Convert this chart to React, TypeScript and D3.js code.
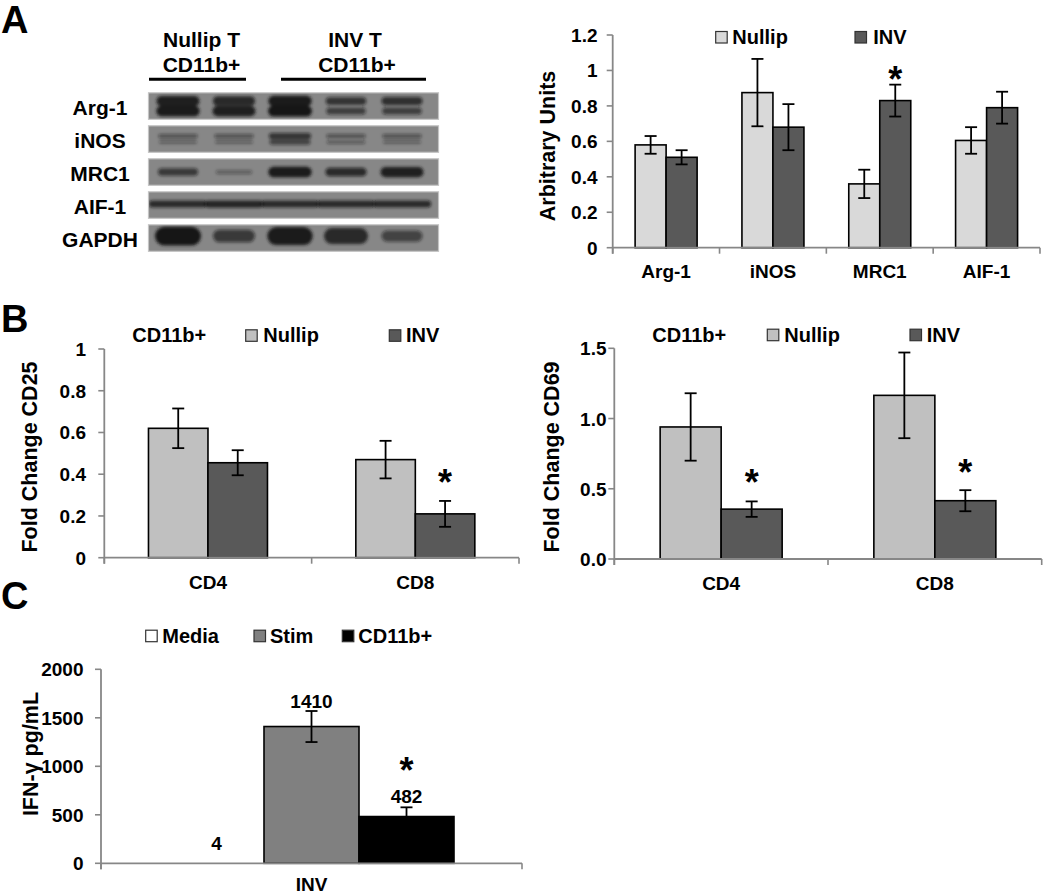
import React from "react";
import * as d3 from "d3";

const FONT = "'Liberation Sans', Arial, Helvetica, sans-serif";

// ---------- Panel A: western blot ----------
const blotProteins = ["Arg-1", "iNOS", "MRC1", "AIF-1", "GAPDH"];
const blotLanes = ["Nullip 1", "Nullip 2", "INV 1", "INV 2", "INV 3"];
const arg1Upper = [0.9, 0.8, 0.95, 0.6, 0.65];
const arg1Lower = [0.95, 0.9, 1.0, 0.5, 0.5];
const inosUpper = [0.3, 0.3, 0.6, 0.3, 0.3];
const inosLower = [0.15, 0.15, 0.45, 0.2, 0.15];
const mrc1Band = [0.55, 0.15, 0.95, 0.7, 0.9];
const aif1Band = [0.7, 0.75, 0.7, 0.7, 0.7];
const gapdhBand = [1.0, 0.55, 0.95, 0.8, 0.45];

// ---------- Panel A: densitometry ----------
const aCategories = ["Arg-1", "iNOS", "MRC1", "AIF-1"];
const aNullip = [0.58, 0.875, 0.36, 0.605];
const aNullipErr = [0.05, 0.19, 0.08, 0.075];
const aInv = [0.51, 0.68, 0.83, 0.79];
const aInvErr = [0.04, 0.13, 0.09, 0.09];
const aTicks = [0, 0.2, 0.4, 0.6, 0.8, 1, 1.2];

// ---------- Panel B ----------
const bCategories = ["CD4", "CD8"];
const cd25Nullip = [0.62, 0.47];
const cd25NullipErr = [0.095, 0.09];
const cd25Inv = [0.455, 0.21];
const cd25InvErr = [0.06, 0.062];
const cd25Ticks = [0, 0.2, 0.4, 0.6, 0.8, 1];
const cd69Nullip = [0.94, 1.165];
const cd69NullipErr = [0.24, 0.305];
const cd69Inv = [0.355, 0.415];
const cd69InvErr = [0.055, 0.075];
const cd69Ticks = [0, 0.5, 1.0, 1.5];

// ---------- Panel C ----------
const cCategories = ["INV"];
const cMedia = [4];
const cStim = [1410];
const cStimErr = [160];
const cCd11b = [482];
const cCd11bErr = [95];
const cTicks = [0, 500, 1000, 1500, 2000];

type Series = {
  name: string;
  values: number[];
  errors?: number[];
  color: string;
  stroke?: string;
  label?: boolean;
  labelGap?: number;
};

type Star = { cat: number; ser: number; gap: number };

function BarChart(props: {
  x0: number; x1: number; y0: number; yTop: number; yMax: number;
  ticks: number[]; fmt: (v: number) => string; categories: string[];
  series: Series[]; barW: number; ylabel: string; yLabelX: number; yLabelY: number;
  tickRight: number; xLabelBaseline: number; stars?: Star[];
}) {
  const { x0, x1, y0, yTop, yMax, ticks, fmt, categories, series, barW, ylabel,
    yLabelX, yLabelY, tickRight, xLabelBaseline, stars = [] } = props;
  const x = d3.scaleBand<string>().domain(categories).range([x0, x1]).padding(0);
  const y = d3.scaleLinear().domain([0, yMax]).range([y0, yTop]);
  const n = series.length;
  const barX = (ci: number, si: number) => (x(categories[ci]) as number) + x.bandwidth() / 2 + (si - n / 2) * barW;
  const axisColor = "#878787";
  const bounds = categories.map((c) => x(c) as number).concat([x1]);
  return (
    <g>
      {series.map((s, si) =>
        s.values.map((v, ci) => (
          <rect key={`b${si}-${ci}`} x={barX(ci, si)} y={y(v)} width={barW} height={y0 - y(v)}
            fill={s.color} stroke={s.stroke ?? "#000"} strokeWidth={1.6} />
        ))
      )}
      <line x1={x0} x2={x1} y1={y0} y2={y0} stroke={axisColor} strokeWidth={1.8} />
      <line x1={x0} x2={x0} y1={y(yMax)} y2={y0 + 6} stroke={axisColor} strokeWidth={1.8} />
      {ticks.map((t) => (
        <g key={`t${t}`}>
          <line x1={x0 - 6} x2={x0} y1={y(t)} y2={y(t)} stroke={axisColor} strokeWidth={1.6} />
          <text x={tickRight} y={y(t) + 7} textAnchor="end" fontSize={19} fontWeight="bold" fontFamily={FONT}>{fmt(t)}</text>
        </g>
      ))}
      {bounds.map((b, i) => (
        <line key={`xt${i}`} x1={b} x2={b} y1={y0} y2={y0 + 6} stroke={axisColor} strokeWidth={1.6} />
      ))}
      {categories.map((c) => (
        <text key={`xl${c}`} x={(x(c) as number) + x.bandwidth() / 2} y={xLabelBaseline} textAnchor="middle"
          fontSize={19} fontWeight="bold" fontFamily={FONT}>{c}</text>
      ))}
      {series.map((s, si) =>
        s.errors ? s.values.map((v, ci) => {
          const cx = barX(ci, si) + barW / 2;
          const e = s.errors![ci];
          return (
            <g key={`e${si}-${ci}`} stroke="#000" strokeWidth={1.8}>
              <line x1={cx} x2={cx} y1={y(v + e)} y2={y(v - e)} />
              <line x1={cx - 6} x2={cx + 6} y1={y(v + e)} y2={y(v + e)} />
              <line x1={cx - 6} x2={cx + 6} y1={y(v - e)} y2={y(v - e)} />
            </g>
          );
        }) : null
      )}
      {series.map((s, si) =>
        s.label ? s.values.map((v, ci) => (
          <text key={`vl${si}-${ci}`} x={barX(ci, si) + barW / 2}
            y={y(v + (s.errors ? s.errors[ci] : 0)) - (s.labelGap ?? 4)} textAnchor="middle"
            fontSize={19} fontWeight="bold" fontFamily={FONT}>{d3.format("d")(v)}</text>
        )) : null
      )}
      {stars.map((st, i) => {
        const s = series[st.ser];
        const v = s.values[st.cat] + (s.errors ? s.errors[st.cat] : 0);
        const cy = y(v) - st.gap;
        return (
          <text key={`st${i}`} x={barX(st.cat, st.ser) + barW / 2} y={cy + 20} textAnchor="middle"
            fontSize={36} fontWeight="bold" fontFamily={FONT}>*</text>
        );
      })}
      <text transform={`translate(${yLabelX},${yLabelY}) rotate(-90)`} textAnchor="middle" dominantBaseline="central"
        fontSize={21.5} fontWeight="bold" fontFamily={FONT}>{ylabel}</text>
    </g>
  );
}

function Legend({ items, baseline }: { items: { label: string; color: string; boxX: number; textX: number }[]; baseline: number }) {
  return (
    <g>
      {items.map((it) => (
        <g key={it.label}>
          <rect x={it.boxX} y={baseline - 12.5} width={11.5} height={11.5} fill={it.color} stroke="#333" strokeWidth={1.2} />
          <text x={it.textX} y={baseline} fontSize={20} fontWeight="bold" fontFamily={FONT}>{it.label}</text>
        </g>
      ))}
    </g>
  );
}

function Blot() {
  const rows = d3.scaleBand<string>().domain(blotProteins).range([93.3, 250.8]).paddingInner(0.227).paddingOuter(0);
  const lanes = d3.scalePoint<string>().domain(blotLanes).range([178, 402]);
  const thick = d3.scaleLinear().domain([0, 1]).range([3, 11]);
  const opac = d3.scaleLinear().domain([0, 1]).range([0.25, 1]);
  const rowBands: Record<string, { bands: number[][]; offsets: number[]; width: number; thickMul: number }> = {
    "Arg-1": { bands: [arg1Upper, arg1Lower], offsets: [-5, 5], width: 44, thickMul: 1 },
    "iNOS": { bands: [inosUpper, inosLower], offsets: [-3, 3], width: 46, thickMul: 0.8 },
    "MRC1": { bands: [mrc1Band], offsets: [0], width: 44, thickMul: 1 },
    "AIF-1": { bands: [aif1Band], offsets: [-1], width: 62, thickMul: 0.8 },
    "GAPDH": { bands: [gapdhBand], offsets: [-2], width: 46, thickMul: 1.7 },
  };
  return (
    <g>
      <defs>
        <filter id="blur" x="-20%" y="-50%" width="140%" height="200%">
          <feGaussianBlur stdDeviation="1.6" />
        </filter>
        {blotProteins.map((p) => (
          <clipPath key={p} id={`clip-${p}`}>
            <rect x={149} y={rows(p)} width={289} height={rows.bandwidth()} />
          </clipPath>
        ))}
      </defs>
      {blotProteins.map((p) => {
        const y0 = rows(p) as number;
        const h = rows.bandwidth();
        const cy = y0 + h / 2;
        const cfg = rowBands[p];
        return (
          <g key={p}>
            <rect x={148.5} y={y0 - 0.5} width={290} height={h + 1} fill="#878787" stroke="#c4c4c4" strokeWidth={1.2} />
            <g clipPath={`url(#clip-${p})`} filter="url(#blur)">
              {cfg.bands.map((arr, bi) =>
                arr.map((v, li) => {
                  const th = thick(v) * cfg.thickMul;
                  const w = cfg.width * (0.8 + 0.2 * v);
                  return (
                    <rect key={`${bi}-${li}`} x={(lanes(blotLanes[li]) as number) - w / 2} y={cy + cfg.offsets[bi] - th / 2}
                      width={w} height={th} rx={th / 2} fill="#141414" opacity={opac(v)} />
                  );
                })
              )}
            </g>
            <text x={100} y={cy + 8.5} textAnchor="middle" fontSize={21} fontWeight="bold" fontFamily={FONT}>{p}</text>
          </g>
        );
      })}
      <text x={201.5} y={46.5} textAnchor="middle" fontSize={21} fontWeight="bold" fontFamily={FONT}>Nullip T</text>
      <text x={201.5} y={71.5} textAnchor="middle" fontSize={21} fontWeight="bold" fontFamily={FONT}>CD11b+</text>
      <line x1={149} x2={246} y1={79.3} y2={79.3} stroke="#000" strokeWidth={3} />
      <text x={355} y={46.5} textAnchor="middle" fontSize={21} fontWeight="bold" fontFamily={FONT}>INV T</text>
      <text x={357} y={71.5} textAnchor="middle" fontSize={21} fontWeight="bold" fontFamily={FONT}>CD11b+</text>
      <line x1={281} x2={426} y1={79.3} y2={79.3} stroke="#000" strokeWidth={3} />
    </g>
  );
}

export default function App() {
  const f1 = (v: number) => (v === 0 || v === 1 ? String(v) : d3.format(".1f")(v));
  const f1f = d3.format(".1f");
  const fd = d3.format("d");
  return (
    <svg width={1050} height={894} viewBox="0 0 1050 894" style={{ position: "absolute", left: 0, top: 0, background: "#fff" }}>
      <rect width={1050} height={894} fill="#fff" />
      <text x={1} y={33} fontSize={38} fontWeight="bold" fontFamily={FONT}>A</text>
      <text x={1} y={332} fontSize={38} fontWeight="bold" fontFamily={FONT}>B</text>
      <text x={1} y={609} fontSize={38} fontWeight="bold" fontFamily={FONT}>C</text>

      <Blot />

      <Legend baseline={44} items={[
        { label: "Nullip", color: "#d9d9d9", boxX: 715.7, textX: 732.3 },
        { label: "INV", color: "#595959", boxX: 855, textX: 873.3 },
      ]} />
      <BarChart x0={612.7} x1={1040} y0={247.7} yTop={35} yMax={1.2} ticks={aTicks} fmt={f1}
        categories={aCategories} barW={31} ylabel="Arbitrary Units" yLabelX={548} yLabelY={146}
        tickRight={597.5} xLabelBaseline={278}
        series={[
          { name: "Nullip", values: aNullip, errors: aNullipErr, color: "#d9d9d9" },
          { name: "INV", values: aInv, errors: aInvErr, color: "#595959" },
        ]}
        stars={[{ cat: 2, ser: 1, gap: 12.5 }]} />

      <text x={132.3} y={342.3} fontSize={20} fontWeight="bold" fontFamily={FONT}>CD11b+</text>
      <Legend baseline={342.3} items={[
        { label: "Nullip", color: "#c0c0c0", boxX: 245.7, textX: 263.3 },
        { label: "INV", color: "#595959", boxX: 389.3, textX: 406 },
      ]} />
      <BarChart x0={104.3} x1={519} y0={557.7} yTop={349} yMax={1} ticks={cd25Ticks} fmt={f1}
        categories={bCategories} barW={59.5} ylabel="Fold Change CD25" yLabelX={29.5} yLabelY={457}
        tickRight={86} xLabelBaseline={588.5}
        series={[
          { name: "Nullip", values: cd25Nullip, errors: cd25NullipErr, color: "#c0c0c0" },
          { name: "INV", values: cd25Inv, errors: cd25InvErr, color: "#595959" },
        ]}
        stars={[{ cat: 1, ser: 1, gap: 26 }]} />

      <text x={652.3} y={341.7} fontSize={20} fontWeight="bold" fontFamily={FONT}>CD11b+</text>
      <Legend baseline={341.7} items={[
        { label: "Nullip", color: "#c0c0c0", boxX: 767.3, textX: 784.3 },
        { label: "INV", color: "#595959", boxX: 910, textX: 926.7 },
      ]} />
      <BarChart x0={614.3} x1={1041.7} y0={559} yTop={348.3} yMax={1.5} ticks={cd69Ticks} fmt={(v) => f1f(v)}
        categories={bCategories} barW={61} ylabel="Fold Change CD69" yLabelX={551.7} yLabelY={457}
        tickRight={606.5} xLabelBaseline={590}
        series={[
          { name: "Nullip", values: cd69Nullip, errors: cd69NullipErr, color: "#c0c0c0" },
          { name: "INV", values: cd69Inv, errors: cd69InvErr, color: "#595959" },
        ]}
        stars={[{ cat: 0, ser: 1, gap: 26 }, { cat: 1, ser: 1, gap: 25 }]} />

      <Legend baseline={642.7} items={[
        { label: "Media", color: "#ffffff", boxX: 145.7, textX: 162.3 },
        { label: "Stim", color: "#808080", boxX: 254, textX: 270 },
        { label: "CD11b+", color: "#000000", boxX: 342.3, textX: 358.3 },
      ]} />
      <BarChart x0={101} x1={522} y0={863.3} yTop={669.3} yMax={2000} ticks={cTicks} fmt={fd}
        categories={cCategories} barW={95} ylabel="IFN-γ pg/mL" yLabelX={31} yLabelY={754}
        tickRight={83.5} xLabelBaseline={891}
        series={[
          { name: "Media", values: cMedia, color: "#ffffff", stroke: "none", label: true, labelGap: 13 },
          { name: "Stim", values: cStim, errors: cStimErr, color: "#808080", label: true, labelGap: 3.5 },
          { name: "CD11b+", values: cCd11b, errors: cCd11bErr, color: "#000000", label: true, labelGap: 4 },
        ]}
        stars={[{ cat: 0, ser: 2, gap: 44.5 }]} />
    </svg>
  );
}
